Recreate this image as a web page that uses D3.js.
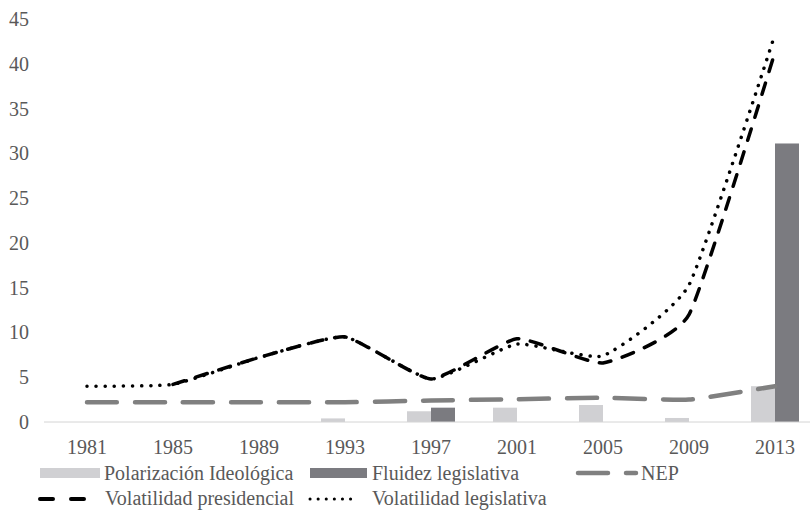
<!doctype html>
<html lang="es">
<head>
  <meta charset="utf-8">
  <title>Volatilidad y fluidez</title>
  <script src="https://d3js.org/d3.v7.min.js"></script>
  <style>
    body { margin: 0; background: #fff; }
  </style>
</head>
<body>
<svg id="chart" width="810" height="519"></svg>
<script>
  // DATOS
  let years = ["1981", "1985", "1989", "1993", "1997", "2001", "2005", "2009", "2013"];
  let polarizacion = [0, 0, 0, 0.4, 1.2, 1.6, 1.9, 0.45, 4.0];
  let fluidez = [0, 0, 0, 0, 1.6, 0, 0, 0, 31.1];
  let nep = [2.2, 2.2, 2.2, 2.2, 2.4, 2.55, 2.7, 2.5, 4.0];
  let volPresidencial = [null, 4.2, 7.2, 9.5, 4.8, 9.3, 6.6, 12.0, 41.3];
  let volLegislativa = [4.0, 4.2, 7.2, 9.5, 4.8, 8.7, 7.4, 15.3, 43.3];
  let yTicks = [0, 5, 10, 15, 20, 25, 30, 35, 40, 45];

  let serif = "Liberation Serif";
  let textColor = "#595959";
  let fontSize = 20;

  let svg = d3.select("#chart");

  let x0 = d3.scaleBand()
    .domain(years)
    .range([44, 818])
    .paddingInner(0.442)
    .paddingOuter(0.221);

  let x1 = d3.scaleBand()
    .domain(["pol", "flu"])
    .range([0, x0.bandwidth()]);

  let y = d3.scaleLinear()
    .domain([0, 45])
    .range([422, 19]);

  let cx = function(i) { return x0(years[i]) + x0.bandwidth() / 2; };

  // eje Y (solo etiquetas)
  svg.append("g")
    .selectAll("text")
    .data(yTicks)
    .enter().append("text")
      .attr("x", 29)
      .attr("y", function(d) { return y(d); })
      .attr("dy", "0.35em")
      .attr("text-anchor", "end")
      .attr("font-family", serif)
      .attr("font-size", fontSize)
      .attr("fill", textColor)
      .text(function(d) { return d; });

  // barras
  let bars = svg.append("g");
  bars.selectAll("rect.pol")
    .data(polarizacion.map(function(v, i) { return {year: years[i], v: v}; }).filter(function(d) { return d.v > 0; }))
    .enter().append("rect")
      .attr("x", function(d) { return x0(d.year) + x1("pol"); })
      .attr("y", function(d) { return y(d.v); })
      .attr("width", x1.bandwidth())
      .attr("height", function(d) { return y(0) - y(d.v); })
      .attr("fill", "#d0d0d3");

  bars.selectAll("rect.flu")
    .data(fluidez.map(function(v, i) { return {year: years[i], v: v}; }).filter(function(d) { return d.v > 0; }))
    .enter().append("rect")
      .attr("x", function(d) { return x0(d.year) + x1("flu"); })
      .attr("y", function(d) { return y(d.v); })
      .attr("width", x1.bandwidth())
      .attr("height", function(d) { return y(0) - y(d.v); })
      .attr("fill", "#7b7b80");

  // eje X
  svg.append("line")
    .attr("x1", 44).attr("x2", 810)
    .attr("y1", y(0)).attr("y2", y(0))
    .attr("stroke", "#d4d4d4")
    .attr("stroke-width", 1);

  svg.append("g")
    .selectAll("text")
    .data(years)
    .enter().append("text")
      .attr("x", function(d, i) { return cx(i); })
      .attr("y", 454)
      .attr("text-anchor", "middle")
      .attr("font-family", serif)
      .attr("font-size", fontSize)
      .attr("fill", textColor)
      .text(function(d) { return d; });

  // lineas
  let line = d3.line()
    .defined(function(d) { return d != null; })
    .x(function(d, i) { return cx(i); })
    .y(function(d) { return y(d); })
    .curve(d3.curveCardinal.tension(0.55));

  svg.append("path")
    .datum(nep)
    .attr("d", line)
    .attr("fill", "none")
    .attr("stroke", "#808080")
    .attr("stroke-width", 4.5)
    .attr("stroke-linecap", "round")
    .attr("stroke-dasharray", "30,18");

  svg.append("path")
    .datum(volPresidencial)
    .attr("d", line)
    .attr("fill", "none")
    .attr("stroke", "#000")
    .attr("stroke-width", 3.5)
    .attr("stroke-linecap", "round")
    .attr("stroke-dasharray", "12,12");

  svg.append("path")
    .datum(volLegislativa)
    .attr("d", line)
    .attr("fill", "none")
    .attr("stroke", "#000")
    .attr("stroke-width", 3.5)
    .attr("stroke-linecap", "round")
    .attr("stroke-dasharray", "0.1,9");

  // leyenda
  let leg = svg.append("g")
    .attr("font-family", serif)
    .attr("font-size", fontSize)
    .attr("fill", textColor);

  leg.append("rect").attr("x", 40).attr("y", 468).attr("width", 60).attr("height", 10).attr("fill", "#d0d0d3");
  leg.append("text").attr("x", 104).attr("y", 480).text("Polarización Ideológica");

  leg.append("rect").attr("x", 310).attr("y", 468).attr("width", 57).attr("height", 10).attr("fill", "#7b7b80");
  leg.append("text").attr("x", 372).attr("y", 480).text("Fluidez legislativa");

  leg.append("line").attr("x1", 578).attr("x2", 636).attr("y1", 473).attr("y2", 473)
    .attr("stroke", "#808080").attr("stroke-width", 4.5).attr("stroke-linecap", "round")
    .attr("stroke-dasharray", "30,18");
  leg.append("text").attr("x", 641).attr("y", 480).text("NEP");

  leg.append("line").attr("x1", 40).attr("x2", 86).attr("y1", 499).attr("y2", 499)
    .attr("stroke", "#000").attr("stroke-width", 4).attr("stroke-linecap", "round")
    .attr("stroke-dasharray", "13,18");
  leg.append("text").attr("x", 105).attr("y", 505).text("Volatilidad presidencial");

  leg.append("line").attr("x1", 310).attr("x2", 358).attr("y1", 499).attr("y2", 499)
    .attr("stroke", "#000").attr("stroke-width", 3).attr("stroke-linecap", "round")
    .attr("stroke-dasharray", "0.1,8");
  leg.append("text").attr("x", 372).attr("y", 505).text("Volatilidad legislativa");
</script>
</body>
</html>
